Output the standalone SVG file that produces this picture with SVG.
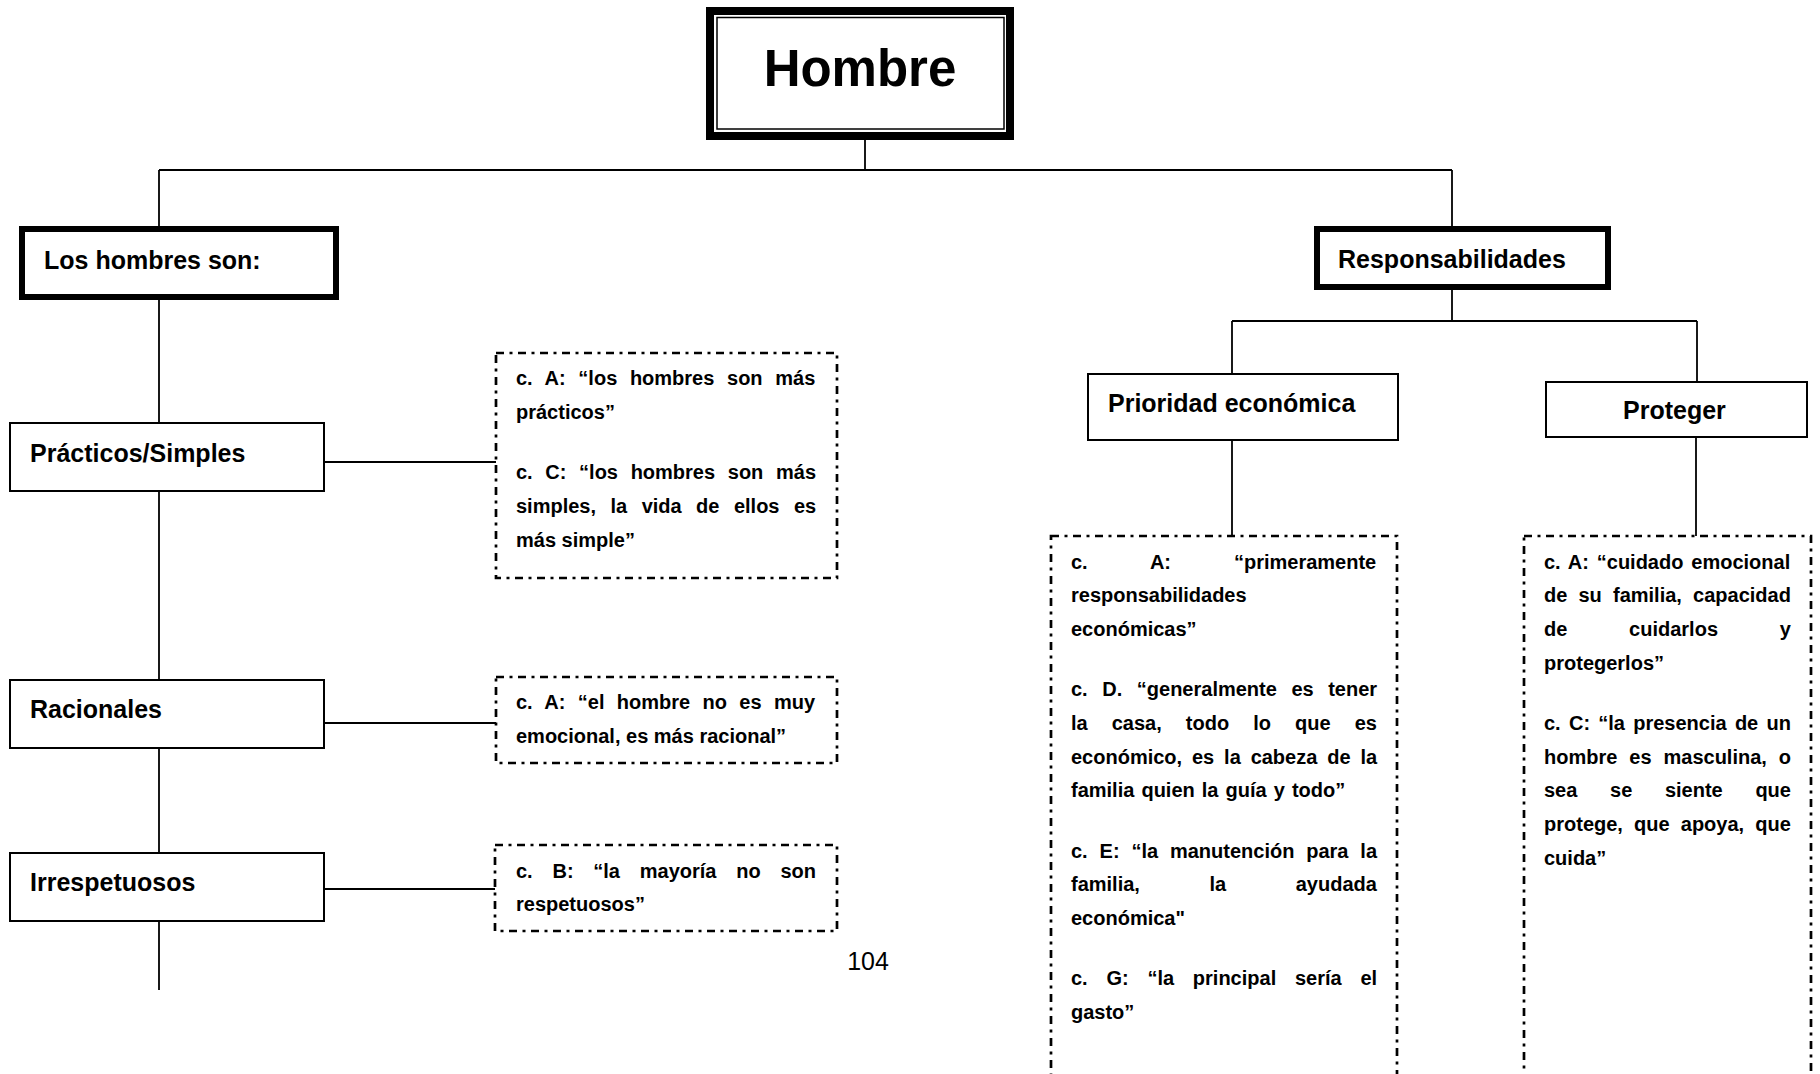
<svg xmlns="http://www.w3.org/2000/svg" width="1820" height="1074" viewBox="0 0 1820 1074">
<style>
.box{fill:#fff;stroke:#000;stroke-width:2}
.thick{fill:#fff;stroke:#000;stroke-width:6}
.dash{fill:none;stroke:#000;stroke-width:2.7;stroke-dasharray:8 5.5 3 5.5}
.conn line{stroke:#000;stroke-width:1.8}
.h{font-family:"Liberation Sans",Arial,sans-serif;font-weight:bold;font-size:25px;fill:#000}
.t{font-family:"Liberation Sans",Arial,sans-serif;font-weight:bold;font-size:20px;fill:#000}
</style>
<rect width="1820" height="1074" fill="#fff"/>
<g id="connectors" class="conn">
<line x1="865" y1="140" x2="865" y2="170"/>
<line x1="159" y1="170" x2="1452" y2="170"/>
<line x1="159" y1="170" x2="159" y2="226"/>
<line x1="1452" y1="170" x2="1452" y2="226"/>
<line x1="159" y1="300" x2="159" y2="422"/>
<line x1="159" y1="492" x2="159" y2="679"/>
<line x1="159" y1="749" x2="159" y2="852"/>
<line x1="159" y1="922" x2="159" y2="990"/>
<line x1="325" y1="462" x2="496" y2="462"/>
<line x1="325" y1="723" x2="496" y2="723"/>
<line x1="325" y1="889" x2="495" y2="889"/>
<line x1="1452" y1="290" x2="1452" y2="321"/>
<line x1="1232" y1="321" x2="1697" y2="321"/>
<line x1="1232" y1="321" x2="1232" y2="373"/>
<line x1="1697" y1="321" x2="1697" y2="381"/>
<line x1="1232" y1="441" x2="1232" y2="536"/>
<line x1="1696" y1="437" x2="1696" y2="536"/>
</g>
<g id="hombre">
<rect x="710" y="11" width="300" height="125" fill="#fff" stroke="#000" stroke-width="8"/>
<rect x="717" y="17.5" width="287" height="111.5" fill="none" stroke="#000" stroke-width="1.5"/>
<text x="860" y="86" text-anchor="middle" font-family="Liberation Sans, Arial, sans-serif" font-weight="bold" font-size="51">Hombre</text>
</g>
<g id="los-hombres">
<rect class="thick" x="22" y="229" width="314" height="68"/>
<text class="h" x="44" y="269">Los hombres son:</text>
</g>
<g id="practicos">
<rect class="box" x="10" y="423" width="314" height="68"/>
<text class="h" x="30" y="462">Prácticos/Simples</text>
</g>
<g id="racionales">
<rect class="box" x="10" y="680" width="314" height="68"/>
<text class="h" x="30" y="718">Racionales</text>
</g>
<g id="irrespetuosos">
<rect class="box" x="10" y="853" width="314" height="68"/>
<text class="h" x="30" y="891">Irrespetuosos</text>
</g>
<g id="cita-practicos">
<rect class="dash" x="496" y="353" width="341" height="225"/>
<text class="t">
<tspan x="516" y="385" word-spacing="7.1">c. A: “los hombres son más</tspan>
<tspan x="516" y="419">prácticos”</tspan>
<tspan x="516" y="479" word-spacing="7.1">c. C: “los hombres son más</tspan>
<tspan x="516" y="513" word-spacing="8.9">simples, la vida de ellos es</tspan>
<tspan x="516" y="547">más simple”</tspan>
</text>
</g>
<g id="cita-racionales">
<rect class="dash" x="496" y="677" width="341" height="86"/>
<text class="t">
<tspan x="516" y="709" word-spacing="6.8">c. A: “el hombre no es muy</tspan>
<tspan x="516" y="743">emocional, es más racional”</tspan>
</text>
</g>
<g id="cita-irrespetuosos">
<rect class="dash" x="495" y="845" width="342" height="86"/>
<text class="t">
<tspan x="516" y="878" word-spacing="14.2">c. B: “la mayoría no son</tspan>
<tspan x="516" y="911">respetuosos”</tspan>
</text>
</g>
<text id="pagina" x="868" y="970" text-anchor="middle" font-family="Liberation Sans, Arial, sans-serif" font-size="25">104</text>
<g id="responsabilidades">
<rect class="thick" x="1317" y="229" width="291" height="58"/>
<text class="h" x="1338" y="268">Responsabilidades</text>
</g>
<g id="prioridad">
<rect class="box" x="1088" y="374" width="310" height="66"/>
<text class="h" x="1108" y="412">Prioridad económica</text>
</g>
<g id="proteger">
<rect class="box" x="1546" y="382" width="261" height="55"/>
<text class="h" x="1623" y="419">Proteger</text>
</g>
<g id="cita-prioridad">
<rect class="dash" x="1051" y="536" width="346" height="580"/>
<text class="t">
<tspan x="1071" y="569" word-spacing="57.4">c. A: “primeramente</tspan>
<tspan x="1071" y="602">responsabilidades</tspan>
<tspan x="1071" y="636">económicas”</tspan>
<tspan x="1071" y="696" word-spacing="9">c. D. “generalmente es tener</tspan>
<tspan x="1071" y="730" word-spacing="18.5">la casa, todo lo que es</tspan>
<tspan x="1071" y="764" word-spacing="4.3">económico, es la cabeza de la</tspan>
<tspan x="1071" y="797" word-spacing="1.5">familia quien la guía y todo”</tspan>
<tspan x="1071" y="858" word-spacing="6.3">c. E: “la manutención para la</tspan>
<tspan x="1071" y="891" word-spacing="64">familia, la ayudada</tspan>
<tspan x="1071" y="925">económica"</tspan>
<tspan x="1071" y="985" word-spacing="13.2">c. G: “la principal sería el</tspan>
<tspan x="1071" y="1019">gasto”</tspan>
</text>
</g>
<g id="cita-proteger">
<rect class="dash" x="1524" y="536" width="287" height="580"/>
<text class="t">
<tspan x="1544" y="569" word-spacing="2.3">c. A: “cuidado emocional</tspan>
<tspan x="1544" y="602" word-spacing="5.6">de su familia, capacidad</tspan>
<tspan x="1544" y="636" word-spacing="56.2">de cuidarlos y</tspan>
<tspan x="1544" y="670">protegerlos”</tspan>
<tspan x="1544" y="730" word-spacing="2.7">c. C: “la presencia de un</tspan>
<tspan x="1544" y="764" word-spacing="6.4">hombre es masculina, o</tspan>
<tspan x="1544" y="797" word-spacing="27.1">sea se siente que</tspan>
<tspan x="1544" y="831" word-spacing="5.6">protege, que apoya, que</tspan>
<tspan x="1544" y="865">cuida”</tspan>
</text>
</g>
</svg>
